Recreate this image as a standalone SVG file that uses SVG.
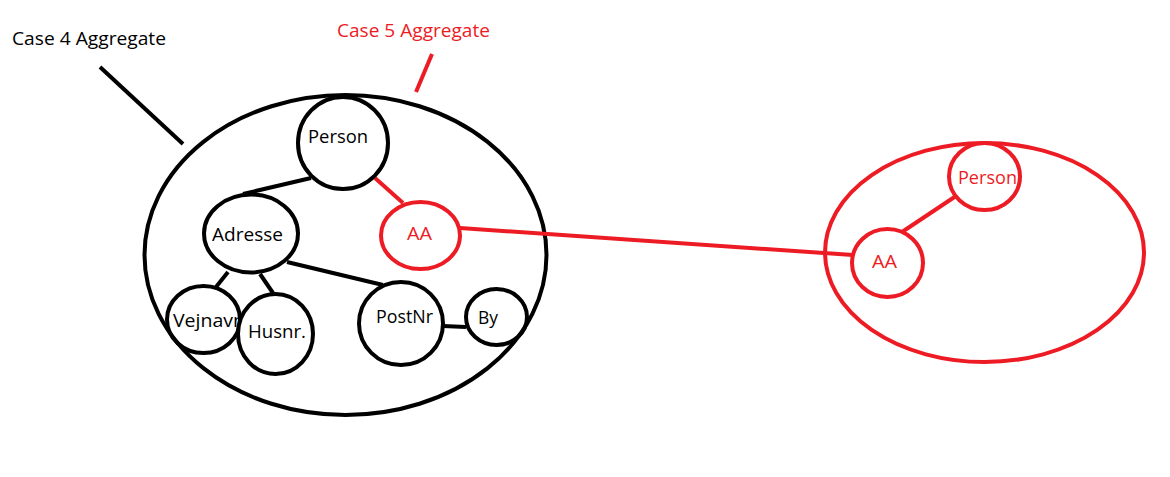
<svg xmlns="http://www.w3.org/2000/svg" width="1170" height="477" viewBox="0 0 1170 477">
<style>
.k{fill:none;stroke:#000;stroke-width:4}
.kw{fill:#fff;stroke:#000;stroke-width:4}
.r{fill:none;stroke:#ED1C24;stroke-width:4}
.rw{fill:#fff;stroke:#ED1C24;stroke-width:4}
.t{font-family:"Open Sans","Liberation Sans",Arial,sans-serif;font-size:18px;fill:#000}
.tr{font-family:"Open Sans","Liberation Sans",Arial,sans-serif;font-size:18px;fill:#ED1C24}
</style>
<rect width="1170" height="477" fill="#fff"/>
<g id="labels">
<text class="t" x="12" y="45" textLength="154" lengthAdjust="spacingAndGlyphs">Case 4 Aggregate</text>
<text class="tr" x="337" y="37" textLength="153" lengthAdjust="spacingAndGlyphs">Case 5 Aggregate</text>
</g>
<g id="aggregate4"><ellipse class="k" cx="345.5" cy="255" rx="201" ry="160"/></g>
<g id="aggregate5"><ellipse class="r" cx="984.5" cy="252.5" rx="159.5" ry="109.5"/></g>
<g id="connectors">
<line class="k" x1="100" y1="67" x2="183" y2="144"/>
<line class="r" x1="432" y1="54" x2="416" y2="92"/>
<line class="k" x1="311" y1="178" x2="243" y2="194"/>
<line class="r" x1="375" y1="178" x2="403" y2="203"/>
<line class="k" x1="228" y1="272" x2="216" y2="287"/>
<line class="k" x1="260" y1="274" x2="273" y2="293"/>
<line class="k" x1="287" y1="262" x2="383" y2="285"/>
<line class="k" x1="443" y1="326" x2="466" y2="327"/>
<line class="r" x1="460" y1="228" x2="853" y2="255"/>
<line class="r" x1="902" y1="232" x2="956" y2="196"/>
</g>
<g id="person4"><ellipse class="k" cx="343" cy="143" rx="45" ry="46"/><text class="t" x="308" y="143" textLength="60" lengthAdjust="spacingAndGlyphs">Person</text></g>
<g id="adresse"><ellipse class="k" cx="251" cy="233.5" rx="47" ry="39"/><text class="t" x="212" y="241" textLength="71" lengthAdjust="spacingAndGlyphs">Adresse</text></g>
<g id="aa4"><ellipse class="r" cx="420.5" cy="235.5" rx="39.5" ry="33.5"/><text class="tr" x="407" y="240" textLength="25" lengthAdjust="spacingAndGlyphs">AA</text></g>
<g id="vejnavn"><ellipse class="k" cx="203.5" cy="319.5" rx="36.5" ry="33.5"/><text class="t" x="173" y="327" textLength="72" lengthAdjust="spacingAndGlyphs">Vejnavn</text></g>
<g id="husnr"><ellipse class="kw" cx="275.5" cy="334" rx="37.5" ry="40"/><text class="t" x="248" y="338" textLength="58" lengthAdjust="spacingAndGlyphs">Husnr.</text></g>
<g id="postnr"><ellipse class="k" cx="401" cy="323.5" rx="42" ry="41.5"/><text class="t" x="376" y="323" textLength="57" lengthAdjust="spacingAndGlyphs">PostNr</text></g>
<g id="by"><ellipse class="k" cx="496.5" cy="317" rx="30.5" ry="28"/><text class="t" x="478" y="324" textLength="20" lengthAdjust="spacingAndGlyphs">By</text></g>
<g id="person5"><ellipse class="r" cx="984.5" cy="176.5" rx="35.5" ry="33.5"/><text class="tr" x="958" y="184" textLength="59" lengthAdjust="spacingAndGlyphs">Person</text></g>
<g id="aa5"><ellipse class="rw" cx="887.5" cy="263" rx="35.5" ry="34"/><text class="tr" x="872" y="268" textLength="25" lengthAdjust="spacingAndGlyphs">AA</text></g>
</svg>
